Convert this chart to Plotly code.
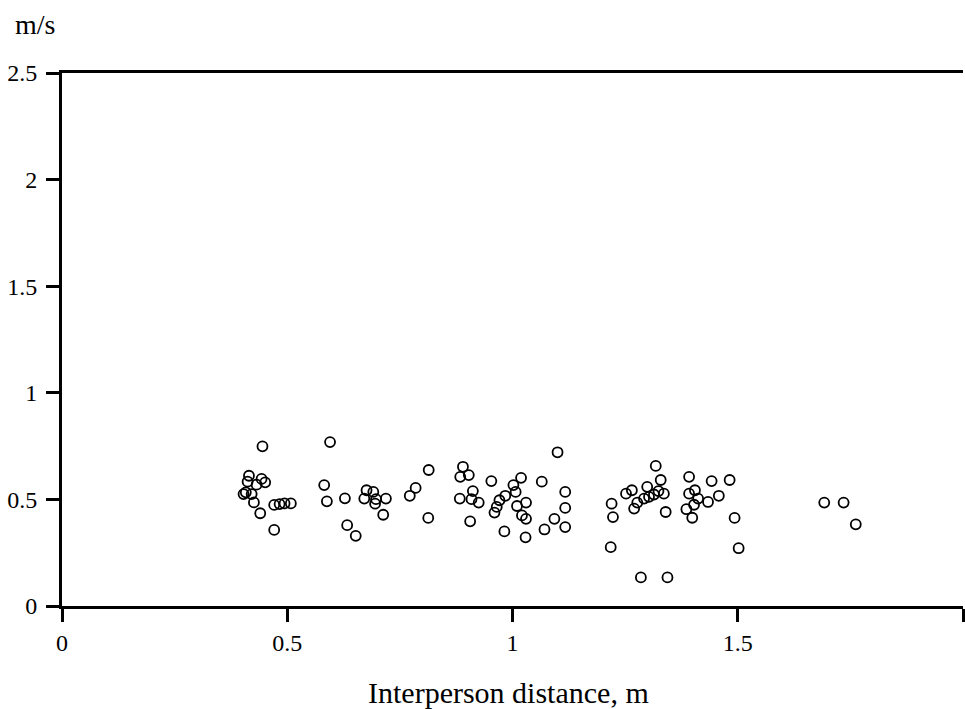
import plotly.graph_objects as go

# Interperson distance (m)
distance = [
    0.445, 0.595, 0.415, 0.412, 0.443, 0.451, 0.432, 0.403, 0.408, 0.421,
    0.426, 0.440, 0.471, 0.483, 0.494, 0.508, 0.471, 0.582, 0.588, 0.628,
    0.633, 0.652, 0.676, 0.691, 0.671, 0.697, 0.695, 0.719, 0.713, 0.772,
    0.785, 0.814, 0.813,
    0.890, 0.884, 0.903, 0.953, 1.019, 1.002, 1.065, 1.117, 0.912, 0.883,
    0.909, 0.925, 0.984, 0.971, 1.007, 0.965, 0.960, 1.010, 1.030, 1.021,
    1.030, 1.117, 1.093, 1.071, 1.117, 0.906, 0.982, 1.029, 1.100,
    1.318, 1.329, 1.252, 1.265, 1.299, 1.277, 1.270, 1.292, 1.303, 1.314,
    1.324, 1.336, 1.340, 1.392, 1.442, 1.482, 1.405, 1.392, 1.412, 1.434,
    1.458, 1.403, 1.386, 1.399, 1.493, 1.220, 1.223, 1.218, 1.502, 1.285,
    1.344, 1.692, 1.735, 1.762,
]
# Speed (m/s)
speed = [
    0.749, 0.769, 0.611, 0.583, 0.596, 0.580, 0.569, 0.525, 0.533, 0.525,
    0.486, 0.435, 0.474, 0.478, 0.481, 0.481, 0.357, 0.567, 0.491, 0.505,
    0.379, 0.329, 0.543, 0.535, 0.504, 0.501, 0.480, 0.504, 0.428, 0.517,
    0.554, 0.638, 0.413,
    0.653, 0.606, 0.614, 0.586, 0.601, 0.567, 0.583, 0.535, 0.539, 0.504,
    0.501, 0.485, 0.517, 0.496, 0.535, 0.465, 0.438, 0.469, 0.485, 0.425,
    0.409, 0.460, 0.409, 0.359, 0.370, 0.397, 0.350, 0.322, 0.721,
    0.657, 0.591, 0.527, 0.543, 0.559, 0.485, 0.457, 0.504, 0.512, 0.523,
    0.539, 0.527, 0.441, 0.606, 0.586, 0.591, 0.543, 0.527, 0.504, 0.488,
    0.517, 0.475, 0.454, 0.414, 0.413, 0.480, 0.417, 0.276, 0.271, 0.134,
    0.134, 0.485, 0.485, 0.383,
]

x_ticks = [0, 0.5, 1, 1.5, 2]
x_tick_labels = ["0", "0.5", "1", "1.5", "2"]
y_ticks = [0, 0.5, 1, 1.5, 2, 2.5]
y_tick_labels = ["0", "0.5", "1", "1.5", "2", "2.5"]

font_family = "Liberation Serif, Times New Roman, serif"

fig = go.Figure()
fig.add_trace(go.Scatter(
    x=distance, y=speed, mode="markers",
    marker=dict(symbol="circle-open", size=10, color="black",
                line=dict(width=1.8, color="black")),
    showlegend=False, cliponaxis=False,
))

fig.update_layout(
    width=965, height=709,
    margin=dict(l=62, r=2, t=73, b=103),
    paper_bgcolor="white", plot_bgcolor="white",
    font=dict(family=font_family, color="black", size=24),
    xaxis=dict(
        range=[0, 2], tickvals=x_ticks, ticktext=x_tick_labels,
        showgrid=False, zeroline=False,
        showline=True, linewidth=3, linecolor="black", mirror=True,
        ticks="outside", ticklen=13, tickwidth=3, tickcolor="black",
        ticklabelstandoff=0,
        tickfont=dict(family=font_family, size=24),
    ),
    yaxis=dict(
        range=[0, 2.5], tickvals=y_ticks, ticktext=y_tick_labels,
        showgrid=False, zeroline=False,
        showline=True, linewidth=3, linecolor="black",
        ticks="outside", ticklen=13, tickwidth=3, tickcolor="black",
        ticklabelstandoff=4,
        tickfont=dict(family=font_family, size=24),
    ),
    annotations=[
        dict(text="m/s", xref="paper", yref="paper",
             x=(13 - 62) / 901, y=(606 - 24) / 533,
             xanchor="left", yanchor="middle", showarrow=False,
             font=dict(family=font_family, size=28)),
        dict(text="Interperson distance, m", xref="paper", yref="paper",
             x=(508 - 62) / 901, y=(606 - 692) / 533,
             xanchor="center", yanchor="middle", showarrow=False,
             font=dict(family=font_family, size=30)),
    ],
)

fig.write_html("out.html")
